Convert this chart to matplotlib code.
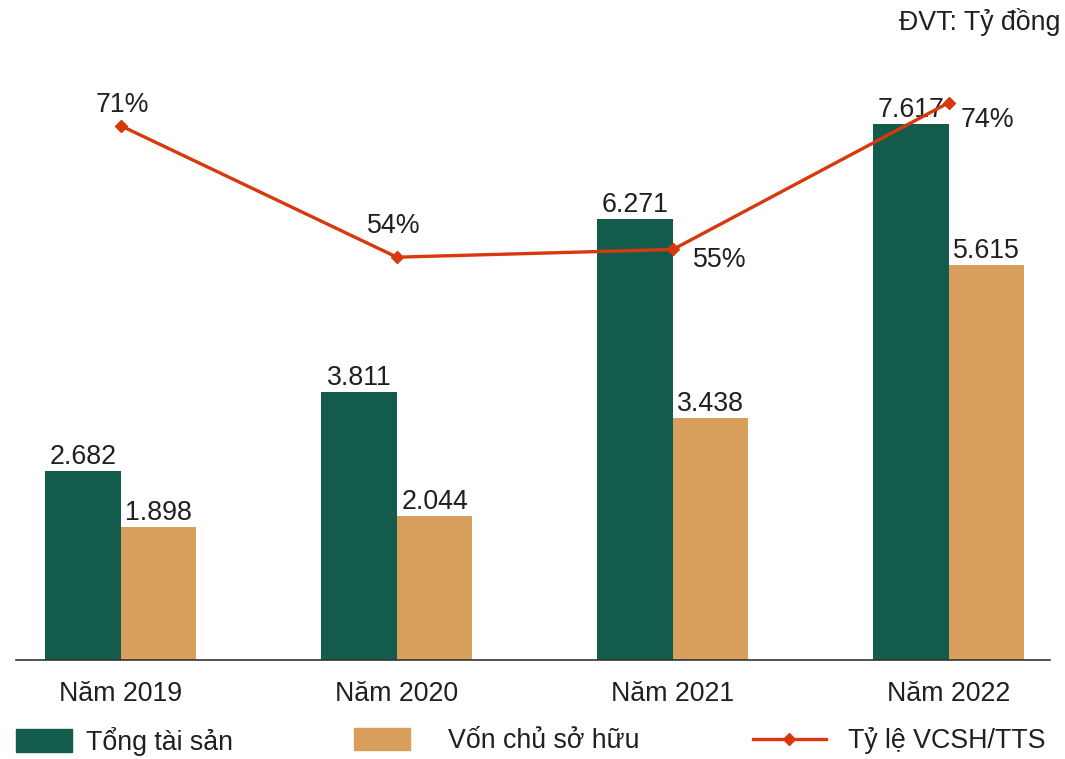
import matplotlib
matplotlib.use("Agg")
import matplotlib.pyplot as plt
import numpy as np
from matplotlib.patches import Patch
from matplotlib.lines import Line2D

plt.rcParams['font.family'] = ['Liberation Sans', 'DejaVu Sans']

categories = ["Năm 2019", "Năm 2020", "Năm 2021", "Năm 2022"]
tong_tai_san = [2682, 3811, 6271, 7617]
von_chu_so_huu = [1898, 2044, 3438, 5615]
ty_le = [71, 54, 55, 74]
bar_labels_tts = ["2.682", "3.811", "6.271", "7.617"]
bar_labels_vcsh = ["1.898", "2.044", "3.438", "5.615"]
ty_le_labels = ["71%", "54%", "55%", "74%"]

GREEN = "#135c4b"
TAN = "#d89e5c"
RED = "#d8380e"
TXT = "#231f20"
FS = 19.3

fig = plt.figure(figsize=(10.65, 7.59), dpi=100)
W, H = 1065, 759
ax = fig.add_axes([16 / W, 1 - 660 / H, (1050 - 16) / W, 630 / H])
x = np.arange(len(categories))
bw = 0.2736
b1 = ax.bar(x - bw / 2, tong_tai_san, bw, color=GREEN)
b2 = ax.bar(x + bw / 2, von_chu_so_huu, bw, color=TAN)
ax.set_xlim(-0.38, 3.366)
ax.set_ylim(0, 8960)
for bars, labels in ((b1, bar_labels_tts), (b2, bar_labels_vcsh)):
    for rect, lab in zip(bars, labels):
        ax.annotate(lab, (rect.get_x() + rect.get_width() / 2, rect.get_height()),
                    xytext=(0, 5), textcoords="offset points", ha="center",
                    va="baseline", fontsize=FS, color=TXT)

for s in ["top", "right", "left"]:
    ax.spines[s].set_visible(False)
ax.spines["bottom"].set_color("#333333")
ax.spines["bottom"].set_linewidth(1.2)
ax.set_yticks([])
ax.set_xticks(x)
ax.set_xticklabels(categories, fontsize=FS, color=TXT)
ax.tick_params(axis="x", length=0, pad=15)

ax2 = ax.twinx()
ax2.set_ylim(1.89, 83.39)
ax2.axis("off")
ax2.plot(x, ty_le, color=RED, lw=2.4, marker="D", markersize=6.5)
offsets = [(1, 9.9), (-2.2, 17.4), (33.8, -12.6), (28, -17.6)]
for xi, v, lab, (dx, dy) in zip(x, ty_le, ty_le_labels, offsets):
    ax2.annotate(lab, (xi, v), xytext=(dx, dy), textcoords="offset points",
                 ha="center", va="baseline", fontsize=FS, color=TXT)

fig.text(1060 / W, 1 - 30 / H, "ĐVT: Tỷ đồng", ha="right", va="baseline",
         fontsize=FS, color=TXT)

ly = 1 - 741 / H
common = dict(loc="center left", frameon=False, fontsize=FS, borderpad=0,
              borderaxespad=0, labelcolor=TXT)
fig.legend(handles=[Patch(color=GREEN, label="Tổng tài sản")],
           bbox_to_anchor=(16 / W, ly), handlelength=2.09, handleheight=0.93,
           handletextpad=0.52, **common)
fig.legend(handles=[Patch(color=TAN, label="Vốn chủ sở hữu")],
           bbox_to_anchor=(354 / W, ly), handlelength=2.09, handleheight=0.93,
           handletextpad=1.42, **common)
fig.legend(handles=[Line2D([], [], color=RED, lw=2.4, marker="D", markersize=6.5,
                           label="Tỷ lệ VCSH/TTS")],
           bbox_to_anchor=(753 / W, ly), handlelength=2.72, handletextpad=0.82,
           **common)

fig.savefig("out.png", dpi=100)
